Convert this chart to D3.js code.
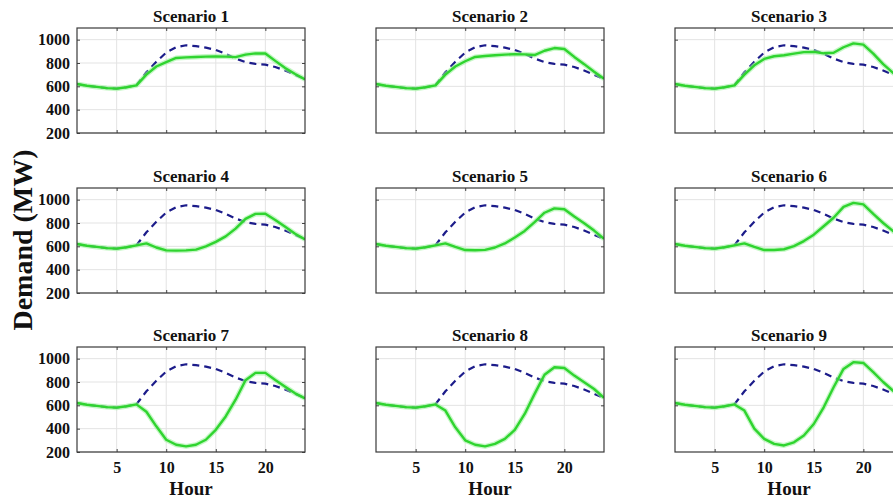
<!DOCTYPE html>
<html><head><meta charset="utf-8">
<script src="https://cdn.jsdelivr.net/npm/d3@7"></script>
<style>html,body{margin:0;padding:0;background:#fff;overflow:hidden}</style>
</head><body>
<script>
const hours = d3.range(1, 25);
const baseline = [620,605,595,585,580,592,610,720,810,890,935,952,945,932,912,878,838,808,792,786,766,735,700,660];
const scenario1 = [620,605,595,585,580,592,608,700,770,808,843,848,852,855,857,855,850,872,882,882,818,757,706,660];
const scenario2 = [620,605,595,585,580,592,608,700,770,815,852,860,866,872,876,874,868,905,928,920,852,790,725,665];
const scenario3 = [620,605,595,585,580,592,608,700,780,835,858,866,880,893,895,883,888,935,968,958,880,790,715,665];
const scenario4 = [620,605,595,585,580,592,608,625,590,565,563,565,572,600,638,685,752,835,878,880,826,768,708,660];
const scenario5 = [620,605,595,585,580,592,608,625,595,568,566,570,590,625,675,732,808,888,925,918,855,798,735,665];
const scenario6 = [620,605,595,585,580,592,608,625,595,568,568,575,602,645,700,772,845,938,972,960,878,800,730,665];
const scenario7 = [620,605,595,585,580,592,608,545,420,305,262,248,262,305,390,505,648,815,878,878,817,760,703,660];
const scenario8 = [620,605,595,585,580,592,608,555,412,300,262,248,270,312,390,526,698,862,926,920,855,798,740,665];
const scenario9 = [620,605,595,585,580,592,608,555,400,312,270,256,283,342,440,583,755,912,970,963,884,800,725,665];
const scenarios = [scenario1,scenario2,scenario3,scenario4,scenario5,scenario6,scenario7,scenario8,scenario9];
const titles = ["Scenario 1","Scenario 2","Scenario 3","Scenario 4","Scenario 5","Scenario 6","Scenario 7","Scenario 8","Scenario 9"];
const xTicks = [5,10,15,20];
const yTicksLeft = [200,400,600,800,1000];
const yTicksOther = [600,1000];
const xLabel = "Hour";
const yLabel = "Demand (MW)";

const W = 893, H = 499;
const colLefts = [77, 376, 675];
const rowTops = [28, 188, 347];
const pw = 228, ph = 105;
const font = "'Liberation Serif','Times New Roman',serif";

const svg = d3.select("body").append("svg").attr("width", W).attr("height", H)
  .style("font-family", font);

const x = d3.scaleLinear().domain([1,24]).range([0, pw]);
const y = d3.scaleLinear().domain([200,1100]).range([ph, 0]);
const line = d3.line().x((d,i)=>x(hours[i])).y(d=>y(d));

svg.append("defs").append("clipPath").attr("id","clip")
  .append("rect").attr("width", pw).attr("height", ph);

scenarios.forEach((data, k) => {
  const r = Math.floor(k/3), c = k%3;
  const left = c === 0;
  const bottom = r === 2;
  const g = svg.append("g").attr("transform", `translate(${colLefts[c]},${rowTops[r]})`);
  const yt = left ? yTicksLeft : yTicksOther;

  g.append("rect").attr("width", pw).attr("height", ph).attr("fill", "#fff");
  // grid
  g.append("g").selectAll("line").data(xTicks).join("line")
    .attr("x1", d=>x(d)).attr("x2", d=>x(d)).attr("y1",0).attr("y2",ph)
    .attr("stroke","#e3e3e3").attr("stroke-width",1);
  g.append("g").selectAll("line").data(yt).join("line")
    .attr("y1", d=>y(d)).attr("y2", d=>y(d)).attr("x1",0).attr("x2",pw)
    .attr("stroke","#e3e3e3").attr("stroke-width",1);

  const plot = g.append("g").attr("clip-path","url(#clip)");
  plot.append("path").datum(baseline).attr("d", line)
    .attr("fill","none").attr("stroke","#1c1c8a").attr("stroke-width",2.2)
    .attr("stroke-dasharray","7,5");
  plot.append("path").datum(data).attr("d", line)
    .attr("fill","none").attr("stroke","#9ef29e").attr("stroke-width",5).attr("stroke-opacity",0.6)
    .attr("stroke-linejoin","round");
  plot.append("path").datum(data).attr("d", line)
    .attr("fill","none").attr("stroke","#2fd42f").attr("stroke-width",2.4)
    .attr("stroke-linejoin","round");

  // axes with inward ticks
  const xb = d3.axisBottom(x).tickValues(xTicks).tickSizeInner(-3).tickSizeOuter(0)
    .tickFormat(bottom ? d3.format("d") : () => "").tickPadding(10);
  const xa = g.append("g").attr("transform", `translate(0,${ph})`).call(xb);
  const xt = d3.axisTop(x).tickValues(xTicks).tickSizeInner(-3).tickSizeOuter(0).tickFormat(()=>"");
  const xta = g.append("g").call(xt);
  const yl = d3.axisLeft(y).tickValues(yt).tickSizeInner(-3).tickSizeOuter(0)
    .tickFormat(left ? d3.format("d") : () => "").tickPadding(7);
  const ya = g.append("g").call(yl);
  const yr = d3.axisRight(y).tickValues(yt).tickSizeInner(-3).tickSizeOuter(0).tickFormat(()=>"");
  const yra = g.append("g").attr("transform", `translate(${pw},0)`).call(yr);
  [xa, xta, ya, yra].forEach(a => {
    a.select(".domain").remove();
    a.selectAll(".tick line").attr("stroke","#444");
    a.selectAll("text").attr("fill","#111").style("font-family", font)
      .style("font-weight","bold").style("font-size","16px");
  });
  g.append("rect").attr("width", pw).attr("height", ph).attr("fill","none")
    .attr("stroke","#3a3a3a").attr("stroke-width",1.2);

  g.append("text").attr("x", pw/2).attr("y", -6).attr("text-anchor","middle")
    .style("font-weight","bold").style("font-size","17px").attr("fill","#111").text(titles[k]);
  if (bottom) {
    g.append("text").attr("x", pw/2).attr("y", ph + 43).attr("text-anchor","middle")
      .style("font-weight","bold").style("font-size","19px").attr("fill","#111").text(xLabel);
  }
});

svg.append("text").attr("transform","translate(32,240) rotate(-90)")
  .attr("text-anchor","middle").style("font-weight","bold").style("font-size","28px")
  .attr("fill","#111").text(yLabel);
</script>
</body></html>
